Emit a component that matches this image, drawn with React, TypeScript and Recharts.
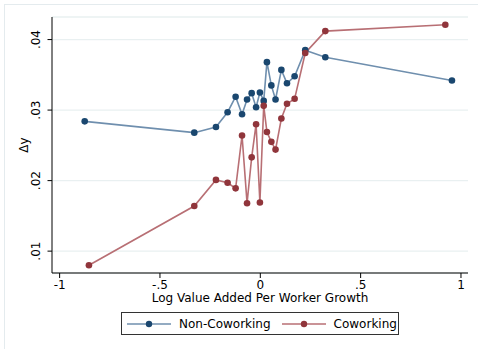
import React from 'react'
import { CartesianGrid, Legend, Line, LineChart, XAxis, YAxis } from 'recharts'

// Non-Coworking series
const nonCoworkingX = [
  -0.875, -0.329, -0.221, -0.163, -0.123, -0.091, -0.066, -0.043, -0.021, -0.002,
  0.017, 0.033, 0.055, 0.076, 0.105, 0.133, 0.171, 0.224, 0.324, 0.955,
]
const nonCoworkingY = [
  0.0284, 0.0268, 0.0276, 0.0297, 0.0319, 0.0294, 0.0315, 0.0324, 0.0304, 0.0325,
  0.0313, 0.0368, 0.0335, 0.0315, 0.0357, 0.0338, 0.0348, 0.0385, 0.0375, 0.0342,
]

// Coworking series
const coworkingX = [
  -0.854, -0.329, -0.221, -0.163, -0.123, -0.091, -0.066, -0.043, -0.021, -0.002,
  0.017, 0.033, 0.055, 0.076, 0.105, 0.133, 0.171, 0.224, 0.324, 0.922,
]
const coworkingY = [
  0.008, 0.0164, 0.0201, 0.0197, 0.0189, 0.0264, 0.0168, 0.0233, 0.028, 0.0169,
  0.0306, 0.0269, 0.0255, 0.0244, 0.0288, 0.0309, 0.0316, 0.0381, 0.0412, 0.0421,
]

const xTicks = [-1, -0.5, 0, 0.5, 1]
const yTicks = [0.01, 0.02, 0.03, 0.04]

const NAVY = '#1a476f'
const NAVY_LINE = '#6f8fae'
const MAROON = '#90353b'
const MAROON_LINE = '#b86f74'
const FONT = 'DejaVu Sans, sans-serif'

const series = [
  { name: 'Non-Coworking', dot: NAVY, line: NAVY_LINE },
  { name: 'Coworking', dot: MAROON, line: MAROON_LINE },
]

const toPoints = (xs: number[], ys: number[]) => xs.map((x, i) => ({ x, y: ys[i] }))
const nonCoworking = toPoints(nonCoworkingX, nonCoworkingY)
const coworking = toPoints(coworkingX, coworkingY)

// Stata-style labels: drop leading zero (".5", "-.5", ".04")
function fmt(v: number): string {
  if (v === 0) return '0'
  const s = String(Number(v.toFixed(4)))
  return s.replace(/^(-?)0\./, '$1.')
}

function YTick({ x, y, payload }: any) {
  return (
    <text
      x={x}
      y={y}
      transform={`rotate(-90 ${x} ${y})`}
      textAnchor="middle"
      dy="0.35em"
      fontSize={12}
      fontFamily={FONT}
      fill="#000"
    >
      {fmt(payload.value)}
    </text>
  )
}

// keeps series order (Recharts sorts its payload by name)
function LegendBox() {
  return (
    <div
      style={{
        width: 276,
        height: 21,
        border: '1.2px solid #333',
        display: 'flex',
        alignItems: 'center',
        fontFamily: FONT,
        fontSize: 12,
        color: '#000',
        whiteSpace: 'nowrap',
        boxSizing: 'content-box',
      }}
    >
      {series.map((s, i) => (
        <div key={s.name} style={{ display: 'flex', alignItems: 'center', marginLeft: i === 0 ? 4 : 10 }}>
          <svg width={46} height={10}>
            <line x1={1} y1={5} x2={45} y2={5} stroke={s.line} strokeWidth={1.6} />
            <circle cx={23} cy={5} r={3.2} fill={s.dot} />
          </svg>
          <span style={{ marginLeft: 7 }}>{s.name}</span>
        </div>
      ))}
    </div>
  )
}

export default function App() {
  return (
    <div
      style={{
        position: 'absolute',
        left: 0,
        top: 0,
        width: 478,
        height: 349,
        background: '#fff',
        overflow: 'hidden',
      }}
    >
      <div
        style={{
          position: 'absolute',
          left: 4,
          top: 4,
          width: 560,
          height: 420,
          borderLeft: '1.5px solid #e4ebee',
          borderTop: '1.5px solid #e4ebee',
        }}
      />
      <LineChart width={478} height={349} margin={{ top: 17, right: 10, left: 0, bottom: 0 }}>
        <CartesianGrid vertical={false} stroke="#e9f0f1" strokeWidth={1.3} />
        <XAxis
          type="number"
          dataKey="x"
          domain={[-1.038, 1.035]}
          ticks={xTicks}
          tickFormatter={fmt}
          height={76}
          tickSize={5}
          stroke="#000"
          tick={{ fill: '#000', fontSize: 12, fontFamily: FONT }}
          label={(props: any) => {
            const vb = props.viewBox
            return (
              <text
                x={vb.x + vb.width / 2}
                y={301.5}
                textAnchor="middle"
                fontSize={12}
                fontFamily={FONT}
                fill="#000"
              >
                Log Value Added Per Worker Growth
              </text>
            )
          }}
        />
        <YAxis
          type="number"
          dataKey="y"
          domain={[0.0069, 0.0432]}
          ticks={yTicks}
          width={52}
          tickSize={4.5}
          tickMargin={12}
          stroke="#000"
          tick={<YTick />}
          label={(props: any) => {
            const vb = props.viewBox
            const cy = vb.y + vb.height / 2
            return (
              <text
                x={24}
                y={cy}
                transform={`rotate(-90 24 ${cy})`}
                textAnchor="middle"
                dy="0.35em"
                fontSize={12}
                fontFamily={FONT}
                fill="#000"
              >
                Δy
              </text>
            )
          }}
        />
        <Legend
          layout="horizontal"
          verticalAlign="middle"
          align="center"
          wrapperStyle={{ position: 'absolute', left: 121, top: 312, width: 280, height: 24 }}
          content={<LegendBox />}
        />
        <Line
          name="Non-Coworking"
          data={nonCoworking}
          dataKey="y"
          stroke={NAVY_LINE}
          strokeWidth={1.6}
          dot={{ r: 3.3, fill: NAVY, stroke: NAVY, strokeWidth: 0 }}
          activeDot={false}
          isAnimationActive={false}
        />
        <Line
          name="Coworking"
          data={coworking}
          dataKey="y"
          stroke={MAROON_LINE}
          strokeWidth={1.6}
          dot={{ r: 3.3, fill: MAROON, stroke: MAROON, strokeWidth: 0 }}
          activeDot={false}
          isAnimationActive={false}
        />
      </LineChart>
    </div>
  )
}
